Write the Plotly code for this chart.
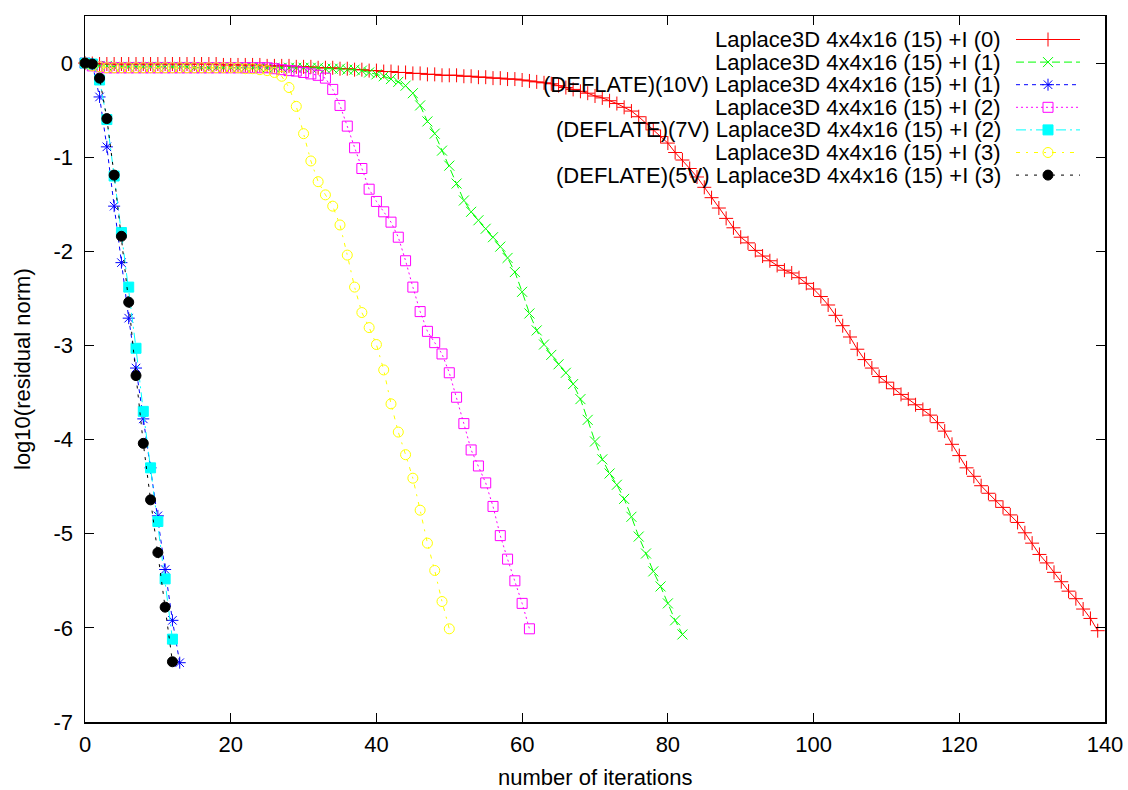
import plotly.graph_objects as go

# ---------------- data (log10 residual norm per iteration) ----------------
red_y = [0.0, -0.005, -0.01, -0.01, -0.01, -0.01, -0.01, -0.01, -0.01, -0.01,
         -0.01, -0.01, -0.01, -0.01, -0.01, -0.01, -0.01, -0.01, -0.01, -0.02,
         -0.02, -0.02, -0.02, -0.02, -0.02, -0.03, -0.03, -0.03, -0.03, -0.04,
         -0.04, -0.04, -0.05, -0.05, -0.05, -0.06, -0.06, -0.07, -0.07, -0.08,
         -0.08, -0.09, -0.09, -0.10, -0.10, -0.11, -0.11, -0.12, -0.12, -0.13,
         -0.13, -0.13, -0.14, -0.14, -0.15, -0.15, -0.16, -0.16, -0.17, -0.17,
         -0.18, -0.19, -0.20, -0.21, -0.22, -0.24, -0.26, -0.28, -0.30, -0.32,
         -0.35, -0.37, -0.40, -0.43, -0.47, -0.51, -0.57, -0.64, -0.71, -0.78,
         -0.85, -0.95, -1.03, -1.12, -1.21, -1.32, -1.43, -1.54, -1.65, -1.75,
         -1.85, -1.91, -1.99, -2.05, -2.10, -2.15, -2.20, -2.23, -2.28, -2.34,
         -2.40, -2.48, -2.57, -2.68, -2.79, -2.91, -3.04, -3.15, -3.24, -3.33,
         -3.39, -3.46, -3.52, -3.57, -3.63, -3.68, -3.74, -3.82, -3.91, -4.05,
         -4.17, -4.30, -4.39, -4.49, -4.57, -4.65, -4.72, -4.80, -4.88, -4.99,
         -5.10, -5.22, -5.31, -5.41, -5.51, -5.61, -5.69, -5.80, -5.90, -6.03]

green_y = [0.0, -0.02, -0.03, -0.03, -0.04, -0.04, -0.04, -0.04, -0.04, -0.04,
           -0.04, -0.04, -0.04, -0.04, -0.04, -0.05, -0.05, -0.05, -0.05, -0.05,
           -0.05, -0.05, -0.05, -0.05, -0.05, -0.05, -0.05, -0.05, -0.05, -0.05,
           -0.05, -0.05, -0.05, -0.06, -0.06, -0.06, -0.07, -0.07, -0.08, -0.10,
           -0.12, -0.14, -0.17, -0.20, -0.24, -0.32, -0.45, -0.62, -0.75, -0.93,
           -1.09, -1.28, -1.46, -1.58, -1.67, -1.76, -1.85, -1.95, -2.07, -2.22,
           -2.43, -2.66, -2.84, -2.99, -3.10, -3.20, -3.29, -3.41, -3.57, -3.79,
           -4.02, -4.21, -4.36, -4.48, -4.63, -4.82, -5.03, -5.21, -5.40, -5.56,
           -5.74, -5.92, -6.07]

blue_y = [0.0, -0.01, -0.36, -0.89, -1.52, -2.12, -2.71, -3.24, -3.78, -4.30,
          -4.81, -5.38, -5.92, -6.37]

magenta_y = [0.0, -0.03, -0.04, -0.05, -0.05, -0.05, -0.05, -0.05, -0.05, -0.05,
             -0.05, -0.05, -0.05, -0.05, -0.05, -0.05, -0.05, -0.05, -0.05, -0.05,
             -0.05, -0.05, -0.05, -0.05, -0.05, -0.05, -0.06, -0.07, -0.08, -0.085,
             -0.10, -0.115, -0.13, -0.16, -0.28, -0.45, -0.67, -0.90, -1.12, -1.34,
             -1.47, -1.58, -1.69, -1.85, -2.10, -2.38, -2.64, -2.85, -2.97, -3.09,
             -3.29, -3.55, -3.83, -4.11, -4.28, -4.46, -4.71, -5.02, -5.27, -5.50,
             -5.74, -6.01]

cyan_y = [0.0, -0.01, -0.18, -0.60, -1.20, -1.80, -2.38, -3.03, -3.70, -4.30,
          -4.87, -5.48, -6.12]

yellow_y = [0.0, -0.03, -0.04, -0.05, -0.05, -0.05, -0.05, -0.05, -0.05, -0.05,
            -0.05, -0.05, -0.05, -0.05, -0.05, -0.05, -0.05, -0.05, -0.05, -0.05,
            -0.05, -0.05, -0.06, -0.06, -0.07, -0.08, -0.10, -0.14, -0.26, -0.46,
            -0.75, -1.04, -1.26, -1.40, -1.52, -1.72, -2.04, -2.38, -2.65, -2.81,
            -2.99, -3.26, -3.62, -3.92, -4.16, -4.41, -4.75, -5.10, -5.39, -5.72,
            -6.01]

black_y = [0.0, -0.01, -0.16, -0.59, -1.19, -1.84, -2.54, -3.32, -4.04, -4.64,
           -5.20, -5.78, -6.36]

series_names = [
    "Laplace3D 4x4x16 (15) +I (0)",
    "Laplace3D 4x4x16 (15) +I (1)",
    "(DEFLATE)(10V) Laplace3D 4x4x16 (15) +I (1)",
    "Laplace3D 4x4x16 (15) +I (2)",
    "(DEFLATE)(7V) Laplace3D 4x4x16 (15) +I (2)",
    "Laplace3D 4x4x16 (15) +I (3)",
    "(DEFLATE)(5V) Laplace3D 4x4x16 (15) +I (3)",
]
series_values = [red_y, green_y, blue_y, magenta_y, cyan_y, yellow_y, black_y]

x_ticks = [0, 20, 40, 60, 80, 100, 120, 140]
y_ticks = [0, -1, -2, -3, -4, -5, -6, -7]
y_ticklabels = ["0", "-1", "-2", "-3", "-4", "-5", "-6", "-7"]

# ---------------- styles ----------------
styles = [
    dict(color="#ff0000", dash="solid", symbol="cross-thin", size=10),
    dict(color="#00ff00", dash="8px,4px", symbol="x-thin", size=10),
    dict(color="#0000ff", dash="4px,4px", symbol="asterisk", size=10),
    dict(color="#ff00ff", dash="2px,3px", symbol="square-open", size=10),
    dict(color="#00ffff", dash="10px,4px,2px,4px", symbol="square", size=10),
    dict(color="#ffff00", dash="4px,6px,2px,6px", symbol="circle-open", size=10),
    dict(color="#000000", dash="3px,6px", symbol="circle", size=10),
]

FONT = "Liberation Sans, Arial, Helvetica, sans-serif"
FS = 22

fig = go.Figure()

for name, vals, st in zip(series_names, series_values, styles):
    fig.add_trace(go.Scatter(
        x=list(range(len(vals))), y=vals, name=name,
        mode="lines+markers",
        line=dict(color=st["color"], width=1, dash=st["dash"]),
        marker=dict(symbol=st["symbol"], size=st["size"], color=st["color"],
                    line=dict(color=st["color"], width=1)),
        cliponaxis=False, showlegend=False,
    ))

# ---------------- geometry ----------------
W, H = 1128, 790
L, R, T, B = 85, 23, 16, 68
pw, ph = W - L - R, H - T - B

def px2x(px):
    return (px - L) / pw

def py2y(py):
    return 1 - (py - T) / ph

# ---------------- gnuplot-style key (text right-aligned, sample on right) ----------------
annotations = []
for i, (name, st) in enumerate(zip(series_names, styles)):
    rowy = py2y(39.5 + 22.6 * i)
    annotations.append(dict(
        x=px2x(1003), y=rowy, xref="paper", yref="paper",
        text=name, showarrow=False, xanchor="right", yanchor="middle",
        font=dict(family=FONT, size=FS, color="black")))
    fig.add_trace(go.Scatter(
        x=[px2x(1016), px2x(1080)], y=[rowy, rowy], mode="lines",
        line=dict(color=st["color"], width=1, dash=st["dash"]),
        xaxis="x2", yaxis="y2", showlegend=False, hoverinfo="skip"))
    fig.add_trace(go.Scatter(
        x=[px2x(1048)], y=[rowy], mode="markers",
        marker=dict(symbol=st["symbol"], size=st["size"], color=st["color"],
                    line=dict(color=st["color"], width=1)),
        xaxis="x2", yaxis="y2", showlegend=False, hoverinfo="skip", cliponaxis=False))

annotations.append(dict(
    x=0.5, y=py2y(777), xref="paper", yref="paper", text="number of iterations",
    showarrow=False, xanchor="center", yanchor="middle",
    font=dict(family=FONT, size=FS, color="black")))
annotations.append(dict(
    x=px2x(22), y=py2y(369), xref="paper", yref="paper", text="log10(residual norm)",
    showarrow=False, xanchor="center", yanchor="middle", textangle=-90,
    font=dict(family=FONT, size=FS, color="black")))

axis_common = dict(
    showgrid=False, zeroline=False, showline=True, linecolor="black", linewidth=1.5,
    mirror="allticks", ticks="inside", ticklen=9, tickwidth=1, tickcolor="black",
    tickfont=dict(family=FONT, size=FS, color="black"),
)

fig.update_layout(
    width=W, height=H,
    margin=dict(l=L, r=R, t=T, b=B, autoexpand=False),
    paper_bgcolor="white", plot_bgcolor="white",
    xaxis=dict(range=[0, 140], tickvals=x_ticks, ticklabelstandoff=2, **axis_common),
    yaxis=dict(range=[-7, 0.5], tickvals=y_ticks, ticktext=y_ticklabels,
               ticklabelstandoff=6, **axis_common),
    xaxis2=dict(overlaying="x", anchor="y2", range=[0, 1], visible=False, fixedrange=True),
    yaxis2=dict(overlaying="y", anchor="x2", range=[0, 1], visible=False, fixedrange=True),
    annotations=annotations,
    showlegend=False,
    hovermode=False,
)

fig.write_html(
    "out.html",
    config={"displayModeBar": False, "staticPlot": True},
    post_script="document.body.style.margin='0px';document.body.style.overflow='hidden';",
)
